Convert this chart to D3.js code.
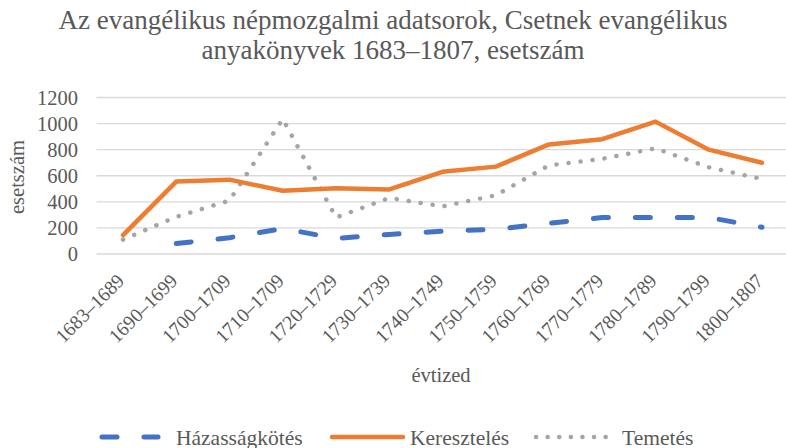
<!DOCTYPE html>
<html><head><meta charset="utf-8">
<script src="https://cdn.jsdelivr.net/npm/d3@7"></script>
<style>
html,body{margin:0;padding:0;background:#fff;}
svg, svg text{font-family:"Liberation Serif","Times New Roman",serif !important;}
</style></head>
<body>
<svg id="chart" width="786" height="448" font-family="Liberation Serif, serif"></svg>
<script>
const categories = ["1683–1689","1690–1699","1700–1709","1710–1709","1720–1729","1730–1739","1740–1749","1750–1759","1760–1769","1770–1779","1780–1789","1790–1799","1800–1807"];
const hazassagkotes = [null,80,125,195,120,150,175,190,235,280,280,280,205];
const keresztelés = [145,555,570,485,505,495,630,670,840,880,1015,800,700];
const temetes = [110,285,410,1035,280,430,365,450,680,730,810,665,575];
const yTicks = [0,200,400,600,800,1000,1200];
const titleLines = ["Az evangélikus népmozgalmi adatsorok, Csetnek evangélikus","anyakönyvek 1683–1807, esetszám"];

const svg = d3.select("#chart");
const textColor = "#595959";
const FONT = "Liberation Serif, serif";

const x = d3.scalePoint().domain(categories).range([123, 762]);
const y = d3.scaleLinear().domain([0, 1200]).range([254, 97.5]);

// title
svg.append("g").selectAll("text").data(titleLines).join("text")
  .attr("x", 393).attr("y", (d,i) => 29 + i*30)
  .attr("text-anchor", "middle").attr("font-family", FONT)
  .attr("font-size", 27).attr("fill", textColor)
  .text(d => d);

// gridlines
svg.append("g").selectAll("line").data(yTicks).join("line")
  .attr("x1", 96.5).attr("x2", 786)
  .attr("y1", d => y(d)).attr("y2", d => y(d))
  .attr("stroke", "#d9d9d9").attr("stroke-width", 1.3);

// y axis
const yAxis = svg.append("g").attr("transform", "translate(78,0)")
  .call(d3.axisLeft(y).tickValues(yTicks).tickFormat(d3.format("d")).tickSize(0).tickPadding(0));
yAxis.attr("font-family", FONT);
yAxis.select(".domain").remove();
yAxis.selectAll("text").attr("font-size", 20.5).attr("fill", textColor)
  .attr("font-family", FONT).attr("dy", "0.33em");

// x axis
const xAxis = svg.append("g").attr("transform", "translate(0,254)")
  .call(d3.axisBottom(x).tickSize(0).tickPadding(0));
xAxis.attr("font-family", FONT);
xAxis.select(".domain").remove();
xAxis.selectAll("text")
  .attr("font-size", 19.5).attr("fill", textColor)
  .attr("font-family", FONT)
  .attr("text-anchor", "end")
  .attr("dy", null).attr("y", 0)
  .attr("transform", "translate(2,28) rotate(-45)");

// axis titles
svg.append("text").attr("transform", "translate(24,177) rotate(-90)")
  .attr("text-anchor", "middle").attr("font-size", 20.5).attr("fill", textColor)
  .attr("font-family", FONT).text("esetszám");
svg.append("text").attr("x", 441).attr("y", 382)
  .attr("text-anchor", "middle").attr("font-size", 20.5).attr("fill", textColor)
  .attr("font-family", FONT).text("évtized");

const lineDef = d3.line().defined(d => d[1] != null)
  .x(d => x(d[0])).y(d => y(d[1]));
const pairs = arr => categories.map((c,i) => [c, arr[i]]);

// Temetés
svg.append("path").datum(pairs(temetes)).attr("d", lineDef)
  .attr("fill", "none").attr("stroke", "#a5a5a5").attr("stroke-width", 4.5)
  .attr("stroke-linecap", "round").attr("stroke-linejoin", "round")
  .attr("stroke-dasharray", "0.1,12");
// Keresztelés
svg.append("path").datum(pairs(keresztelés)).attr("d", lineDef)
  .attr("fill", "none").attr("stroke", "#ed7d31").attr("stroke-width", 4.5)
  .attr("stroke-linejoin", "round").attr("stroke-linecap", "round");
// Házasságkötés
svg.append("path").datum(pairs(hazassagkotes)).attr("d", lineDef)
  .attr("fill", "none").attr("stroke", "#4472c4").attr("stroke-width", 5)
  .attr("stroke-linecap", "round").attr("stroke-linejoin", "round")
  .attr("stroke-dasharray", "15,27");

// legend
const legendItems = [
  {name:"Házasságkötés", color:"#4472c4", dash:"15,27", w:5, x1:102, x2:158, tx:176},
  {name:"Keresztelés", color:"#ed7d31", dash:null, w:4.5, x1:332, x2:403, tx:410},
  {name:"Temetés", color:"#a5a5a5", dash:"0.1,11.5", w:4.5, x1:536, x2:612, tx:622}
];
const lg = svg.append("g");
legendItems.forEach(it => {
  lg.append("line").attr("x1", it.x1).attr("x2", it.x2).attr("y1", 437).attr("y2", 437)
    .attr("stroke", it.color).attr("stroke-width", it.w).attr("stroke-linecap", "round")
    .attr("stroke-dasharray", it.dash);
  lg.append("text").attr("x", it.tx).attr("y", 444.5).attr("font-size", 21.5)
    .attr("font-family", FONT).attr("fill", textColor).text(it.name);
});
</script>
</body></html>
